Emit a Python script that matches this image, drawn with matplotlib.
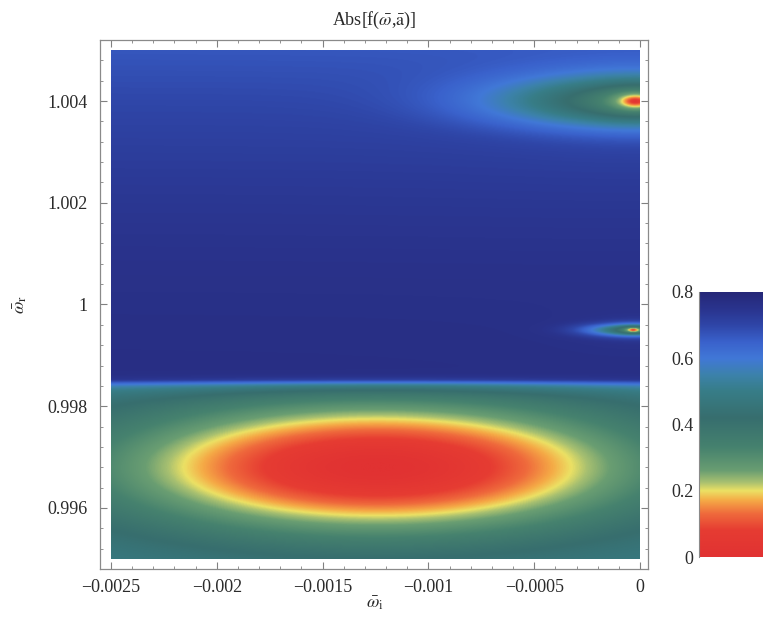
import numpy as np
import matplotlib
matplotlib.use("Agg")
import matplotlib.pyplot as plt
from matplotlib.colors import LinearSegmentedColormap

# ---------------- data ----------------
omega_i_range = [-0.0025, 0.0]          # horizontal axis (imaginary part)
omega_r_range = [0.995, 1.005]          # vertical axis (real part)
x_ticks = [-0.0025, -0.002, -0.0015, -0.001, -0.0005, 0.0]
x_tick_labels = ["\u22120.0025", "\u22120.002", "\u22120.0015", "\u22120.001", "\u22120.0005", "0"]
y_ticks = [0.996, 0.998, 1.0, 1.002, 1.004]
y_tick_labels = ["0.996", "0.998", "1", "1.002", "1.004"]
cbar_ticks = [0.0, 0.2, 0.4, 0.6, 0.8]
cbar_tick_labels = ["0", "0.2", "0.4", "0.6", "0.8"]
value_range = [0.0, 0.8]

# broad minimum in the lower region (centre, semi-axes of the |f| = 0.2 contour)
bowl_center = [-0.00124, 0.9968]
bowl_axes = [0.000914, 0.00095]
bowl_level = 0.5
bowl_rate = 0.51
# horizontal discontinuity line
branch_line = 0.99852
branch_edge_amp = 0.25
branch_edge_width = 0.00014
# upper region level (bottom / top of the region)
upper_levels = [0.77, 0.67]
# zeros near the right edge: centre_i, centre_r, halo widths, core widths, halo depth
zero_center_i = [-0.00002, -0.00003]
zero_center_r = [1.0040, 0.99950]
zero_halo_i = [0.00066, 0.00022]
zero_halo_r = [0.00050, 0.00012]
zero_core_i = [0.00010, 0.00004]
zero_core_r = [0.00017, 0.00005]
zero_depth = [0.47, 0.45]

# colour scale (value -> colour)
cmap_values = [0.00, 0.08, 0.13, 0.17, 0.20, 0.225, 0.26, 0.33, 0.42, 0.50, 0.55, 0.60, 0.65, 0.70, 0.75, 0.80]
cmap_colors = ["#e13232", "#e63c32", "#ef6a3c", "#f5aa46", "#ece164", "#a8c070", "#6a9e72", "#46826e",
               "#376e6e", "#377d87", "#3c82aa", "#4178d7", "#3a62cc", "#2f46a8", "#2a348e", "#262878"]

# ---------------- field ----------------
nx, ny = 700, 700
xs = np.linspace(omega_i_range[0], omega_i_range[1], nx)
ys = np.linspace(omega_r_range[0], omega_r_range[1], ny)
X, Y = np.meshgrid(xs, ys)

r2 = ((X - bowl_center[0]) / bowl_axes[0]) ** 2 + ((Y - bowl_center[1]) / bowl_axes[1]) ** 2
V_low = bowl_level * (1 - np.exp(-bowl_rate * r2)) \
    + branch_edge_amp * np.exp(np.clip((Y - branch_line) / branch_edge_width, -50, 0))

t = np.clip((Y - branch_line) / (omega_r_range[1] - branch_line), 0, 1)
V_up = upper_levels[0] - (upper_levels[0] - upper_levels[1]) * t ** 2
for x0, y0, hx, hy, cx, cy, h in zip(zero_center_i, zero_center_r, zero_halo_i, zero_halo_r,
                                      zero_core_i, zero_core_r, zero_depth):
    db2 = ((X - x0) / hx) ** 2 + ((Y - y0) / hy) ** 2
    dc2 = ((X - x0) / cx) ** 2 + ((Y - y0) / cy) ** 2
    V_up = V_up * (1 - h * np.exp(-db2)) * np.sqrt(dc2 / (dc2 + 1))

S = 1 / (1 + np.exp(-(Y - branch_line) / 0.00004))
V = np.clip(V_low * (1 - S) + V_up * S, value_range[0], value_range[1])

cmap = LinearSegmentedColormap.from_list(
    "abs", list(zip([v / value_range[1] for v in cmap_values], cmap_colors)))

# ---------------- figure ----------------
plt.rcParams["font.family"] = ["Liberation Serif", "DejaVu Serif"]
plt.rcParams["mathtext.fontset"] = "stix"
W, H = 763, 629
fig = plt.figure(figsize=(W / 100, H / 100), dpi=100, facecolor="white")

fl, fr, ft, fb = 100, 648, 40, 569
ax = fig.add_axes([fl / W, 1 - fb / H, (fr - fl) / W, (fb - ft) / H])
ax.imshow(V, extent=[omega_i_range[0], omega_i_range[1], omega_r_range[0], omega_r_range[1]],
          origin="lower", cmap=cmap, vmin=value_range[0], vmax=value_range[1],
          aspect="auto", interpolation="bilinear")
px_x = (omega_i_range[1] - omega_i_range[0]) / 528
px_y = (omega_r_range[1] - omega_r_range[0]) / 511
ax.set_xlim(omega_i_range[0] - 11 * px_x, omega_i_range[1] + 8 * px_x)
ax.set_ylim(omega_r_range[0] - 9 * px_y, omega_r_range[1] + 9 * px_y)

ax.set_xticks(x_ticks)
ax.set_xticklabels(x_tick_labels)
ax.set_yticks(y_ticks)
ax.set_yticklabels(y_tick_labels)
ax.set_xticks(np.arange(-0.0025, 0.00001, 0.0001), minor=True)
ax.set_yticks(np.arange(0.9948, 1.0052, 0.0004), minor=True)
ax.tick_params(which="both", direction="in", top=True, right=True, color="#808080",
               labelsize=13, labelcolor="#2a2a2a")
ax.tick_params(which="major", length=5, width=0.8)
ax.tick_params(which="minor", length=2.5, width=0.6)
ax.tick_params(axis="x", which="major", pad=7)
ax.tick_params(axis="y", which="major", pad=9)
for s in ax.spines.values():
    s.set_color("#8a8a8a")
    s.set_linewidth(0.9)

fig.text(374 / W, 1 - 20 / H, r"Abs[f($\bar{\omega}$,$\bar{\rm a}$)]", ha="center", va="center",
         fontsize=13, color="#2a2a2a")
fig.text(375 / W, 1 - 603 / H, r"$\bar{\omega}_{\rm i}$", ha="center", va="center",
         fontsize=13, color="#2a2a2a")
fig.text(20 / W, 1 - 305 / H, r"$\bar{\omega}_{\rm r}$", ha="center", va="center",
         fontsize=13, color="#2a2a2a", rotation=90)

# colour legend (partly cut off at the right edge, as in the reference)
cl, ct, cb = 699, 292, 557
cax = fig.add_axes([cl / W, 1 - cb / H, 110 / W, (cb - ct) / H])
grad = np.linspace(value_range[0], value_range[1], 256).reshape(-1, 1)
cax.imshow(grad, extent=[0, 1, value_range[0], value_range[1]], origin="lower", cmap=cmap,
           vmin=value_range[0], vmax=value_range[1], aspect="auto")
cax.set_xlim(0, 1)
cax.set_ylim(value_range[0], value_range[1])
cax.set_xticks([])
cax.set_yticks(cbar_ticks)
cax.set_yticklabels(cbar_tick_labels)
cax.tick_params(axis="y", direction="in", length=0, pad=4, labelsize=13, labelcolor="#2a2a2a")
for k, s in cax.spines.items():
    s.set_visible(k == "left")
cax.spines["left"].set_color("#8a8a8a")

fig.savefig("out.png", dpi=100, facecolor="white")
